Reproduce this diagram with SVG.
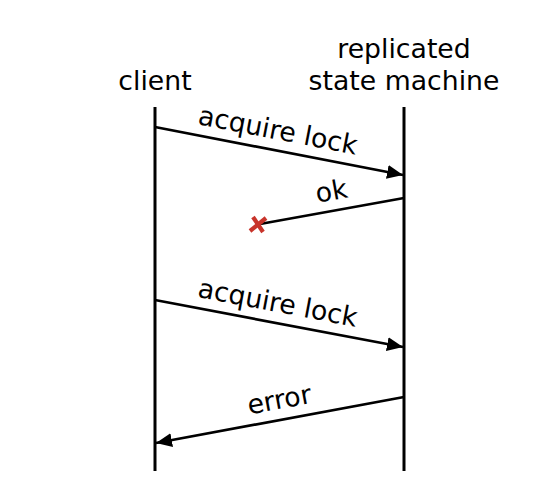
<svg xmlns="http://www.w3.org/2000/svg" width="556" height="482" viewBox="0 0 556 482">
<style>
text{font-family:"DejaVu Sans",sans-serif;font-size:26.7px;fill:#000;text-anchor:middle}
.life{stroke:#000;stroke-width:3;fill:none}
.msg{stroke:#000;stroke-width:2.7;fill:none}
.lost{stroke:#c8342b;stroke-width:4.2;stroke-linecap:butt}
</style>
<defs>
<marker id="ah" markerUnits="userSpaceOnUse" markerWidth="17" markerHeight="15" refX="16" refY="7" orient="auto">
<path d="M0,0 L16,7 L0,14 Z" fill="#000"/>
</marker>
</defs>
<g id="client">
<text x="155" y="90">client</text>
<line class="life" x1="155" y1="107" x2="155" y2="471"/>
</g>
<g id="rsm">
<text x="404" y="58">replicated</text>
<text x="404" y="90">state machine</text>
<line class="life" x1="404" y1="107" x2="404" y2="471"/>
</g>
<g id="connectors">
<line class="msg" x1="155" y1="127" x2="403" y2="175" marker-end="url(#ah)"/>
<text transform="translate(279,151) rotate(10.95)" x="-5" y="-11">acquire lock</text>
<line class="msg" x1="404" y1="198" x2="260" y2="224"/>
<text transform="translate(331,211.5) rotate(-10.3)" x="4" y="-11">ok</text>
<g id="lost">
<line class="lost" x1="253" y1="217" x2="263" y2="232"/>
<line class="lost" x1="266" y1="218" x2="250" y2="231"/>
</g>
<line class="msg" x1="155" y1="300" x2="403" y2="347" marker-end="url(#ah)"/>
<text transform="translate(279,323.5) rotate(10.7)" x="-5" y="-11">acquire lock</text>
<line class="msg" x1="404" y1="397" x2="156" y2="443" marker-end="url(#ah)"/>
<text transform="translate(280,420) rotate(-10.5)" x="3" y="-11">error</text>
</g>
</svg>
